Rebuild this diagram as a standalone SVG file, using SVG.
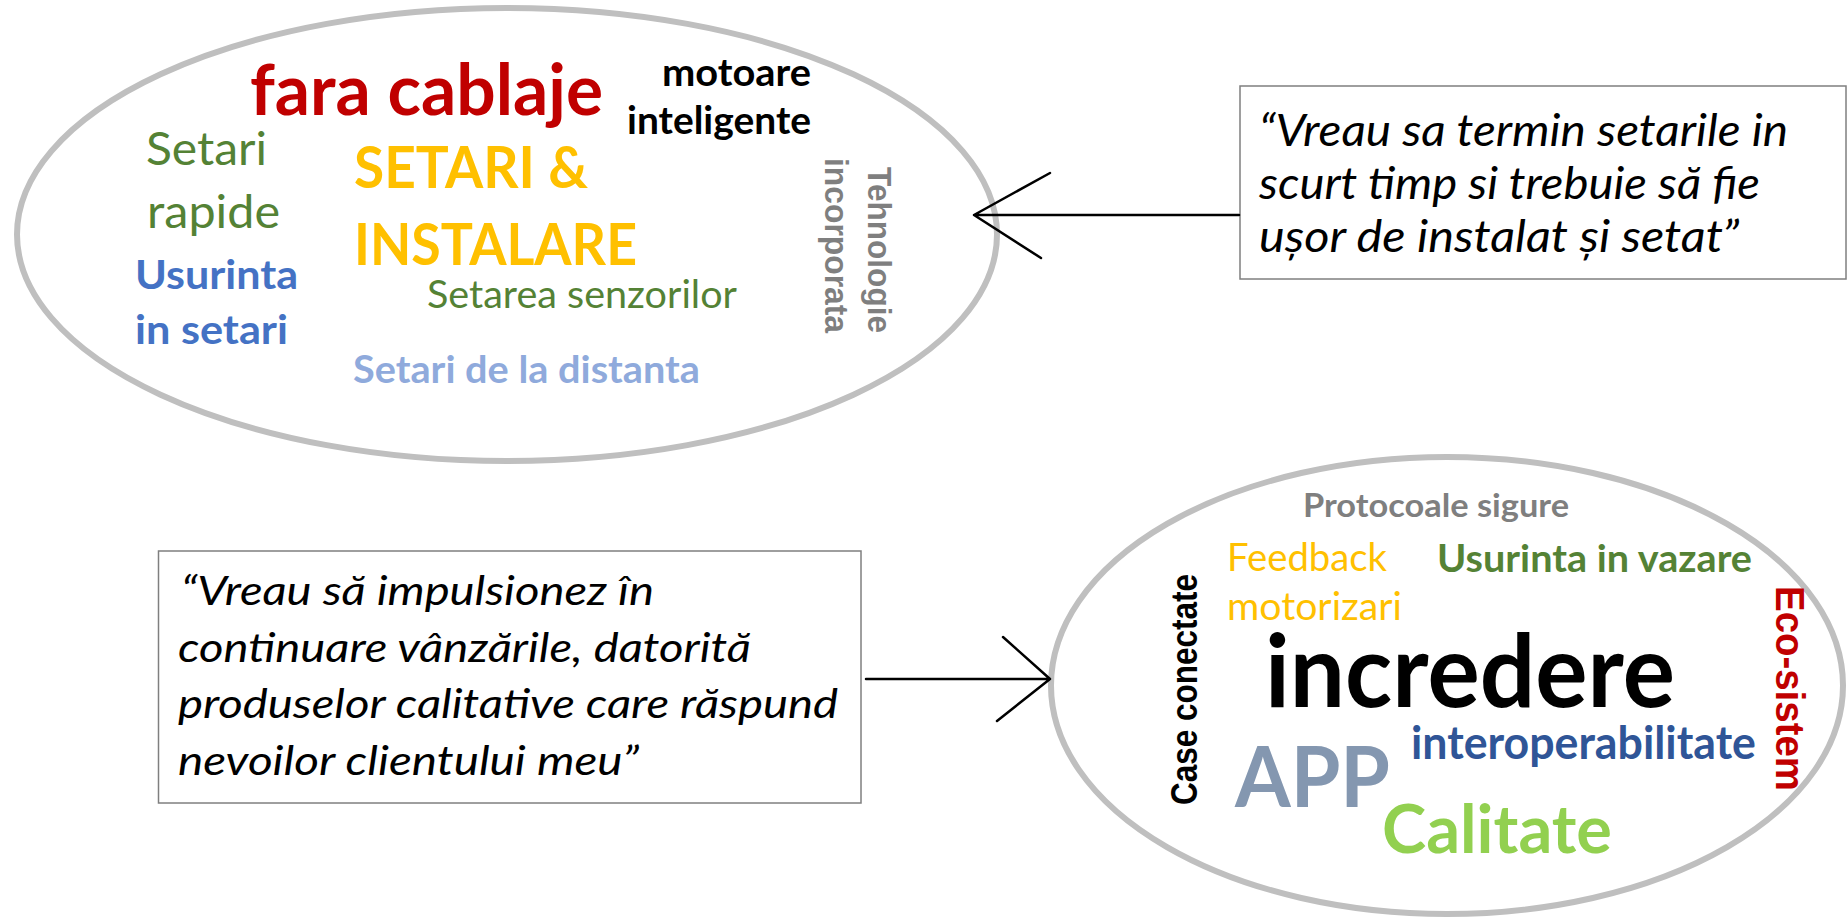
<svg xmlns="http://www.w3.org/2000/svg" width="1847" height="919" viewBox="0 0 1847 919">
<style>
.ell{fill:none;stroke:#BFBFBF;stroke-width:6}
.box{fill:#FFFFFF;stroke:#7F7F7F;stroke-width:1.5}
.c{font-family:Lato,"Open Sans","Liberation Sans",sans-serif}
.b{font-weight:bold}
.q{font-family:Lato,"Open Sans","Liberation Sans",sans-serif;font-style:italic;fill:#000}
.v{font-family:"Liberation Sans",Arial,sans-serif;font-weight:bold}
.arr{fill:none;stroke:#000;stroke-width:2.5;stroke-linecap:round;stroke-linejoin:round}
</style>
<rect width="1847" height="919" fill="#FFFFFF"/>
<g id="cloud-setari">
<ellipse class="ell" cx="507" cy="234.5" rx="490" ry="226.5"/>
<text class="c b" x="250" y="115" font-size="71" fill="#C00000" textLength="353" lengthAdjust="spacingAndGlyphs">fara cablaje</text>
<text class="c b" x="662" y="86" font-size="39" fill="#000" textLength="149" lengthAdjust="spacingAndGlyphs">motoare</text>
<text class="c b" x="627" y="134" font-size="39" fill="#000" textLength="184" lengthAdjust="spacingAndGlyphs">inteligente</text>
<text class="c" x="146" y="165" font-size="47" fill="#548235" textLength="121" lengthAdjust="spacingAndGlyphs">Setari</text>
<text class="c" x="147" y="228" font-size="47" fill="#548235" textLength="133" lengthAdjust="spacingAndGlyphs">rapide</text>
<text class="c b" x="135" y="289" font-size="40" fill="#4472C4" textLength="163" lengthAdjust="spacingAndGlyphs">Usurinta</text>
<text class="c b" x="135" y="344" font-size="40" fill="#4472C4" textLength="153" lengthAdjust="spacingAndGlyphs">in setari</text>
<text class="c b" x="354" y="188" font-size="58" fill="#FFC000" textLength="234" lengthAdjust="spacingAndGlyphs">SETARI &amp;</text>
<text class="c b" x="354" y="265" font-size="58" fill="#FFC000" textLength="283" lengthAdjust="spacingAndGlyphs">INSTALARE</text>
<text class="c" x="427" y="308" font-size="38" fill="#548235" textLength="310" lengthAdjust="spacingAndGlyphs">Setarea senzorilor</text>
<text class="c b" x="353" y="383" font-size="38" fill="#8FAADC" textLength="347" lengthAdjust="spacingAndGlyphs">Setari de la distanta</text>
<text class="v" transform="translate(868,167) rotate(90)" font-size="34" fill="#7F7F7F" textLength="166" lengthAdjust="spacingAndGlyphs">Tehnologie</text>
<text class="v" transform="translate(825,158) rotate(90)" font-size="34" fill="#7F7F7F" textLength="175" lengthAdjust="spacingAndGlyphs">incorporata</text>
</g>
<g id="quote-setari">
<rect class="box" x="1240" y="86" width="606" height="193"/>
<text class="q" x="1259" y="146" font-size="45" textLength="529" lengthAdjust="spacingAndGlyphs">“Vreau sa termin setarile in</text>
<text class="q" x="1259" y="199" font-size="45" textLength="501" lengthAdjust="spacingAndGlyphs">scurt timp si trebuie să fie</text>
<text class="q" x="1259" y="252" font-size="45" textLength="480" lengthAdjust="spacingAndGlyphs">ușor de instalat și setat”</text>
</g>
<g id="quote-vanzari">
<rect class="box" x="158.5" y="551" width="702.5" height="252"/>
<text class="q" x="181" y="605" font-size="41" textLength="473" lengthAdjust="spacingAndGlyphs">“Vreau să impulsionez în</text>
<text class="q" x="178" y="662" font-size="41" textLength="573" lengthAdjust="spacingAndGlyphs">continuare vânzările, datorită</text>
<text class="q" x="178" y="718" font-size="41" textLength="660" lengthAdjust="spacingAndGlyphs">produselor calitative care răspund</text>
<text class="q" x="178" y="775" font-size="41" textLength="461" lengthAdjust="spacingAndGlyphs">nevoilor clientului meu”</text>
</g>
<g id="cloud-incredere">
<ellipse class="ell" cx="1447" cy="685.5" rx="396" ry="228.5"/>
<text class="c b" x="1303" y="517" font-size="32" fill="#7F7F7F" textLength="266" lengthAdjust="spacingAndGlyphs">Protocoale sigure</text>
<text class="c" x="1227" y="571" font-size="39" fill="#FFC000" textLength="160" lengthAdjust="spacingAndGlyphs">Feedback</text>
<text class="c" x="1227" y="620" font-size="39" fill="#FFC000" textLength="175" lengthAdjust="spacingAndGlyphs">motorizari</text>
<text class="c b" x="1437" y="572" font-size="38" fill="#548235" textLength="315" lengthAdjust="spacingAndGlyphs">Usurinta in vazare</text>
<text class="c b" x="1265" y="707" font-size="102" fill="#000" textLength="410" lengthAdjust="spacingAndGlyphs">incredere</text>
<text class="c b" x="1235" y="807" font-size="84" fill="#8497B0" textLength="155" lengthAdjust="spacingAndGlyphs">APP</text>
<text class="c b" x="1411" y="759" font-size="45" fill="#2F5597" textLength="345" lengthAdjust="spacingAndGlyphs">interoperabilitate</text>
<text class="c b" x="1382" y="853" font-size="67" fill="#92D050" textLength="230" lengthAdjust="spacingAndGlyphs">Calitate</text>
<text class="v" transform="translate(1197,805) rotate(-90)" font-size="36" fill="#000" textLength="231" lengthAdjust="spacingAndGlyphs">Case conectate</text>
<text class="v" transform="translate(1776,586) rotate(90)" font-size="41" fill="#C00000" textLength="205" lengthAdjust="spacingAndGlyphs">Eco-sistem</text>
</g>
<g id="connectors">
<path class="arr" d="M1239,215 L974,215 M1050,173 L974,215 L1041,258"/>
<path class="arr" d="M866,679 L1050,679 M1003,637 L1050,679 L997,721"/>
</g>
</svg>
